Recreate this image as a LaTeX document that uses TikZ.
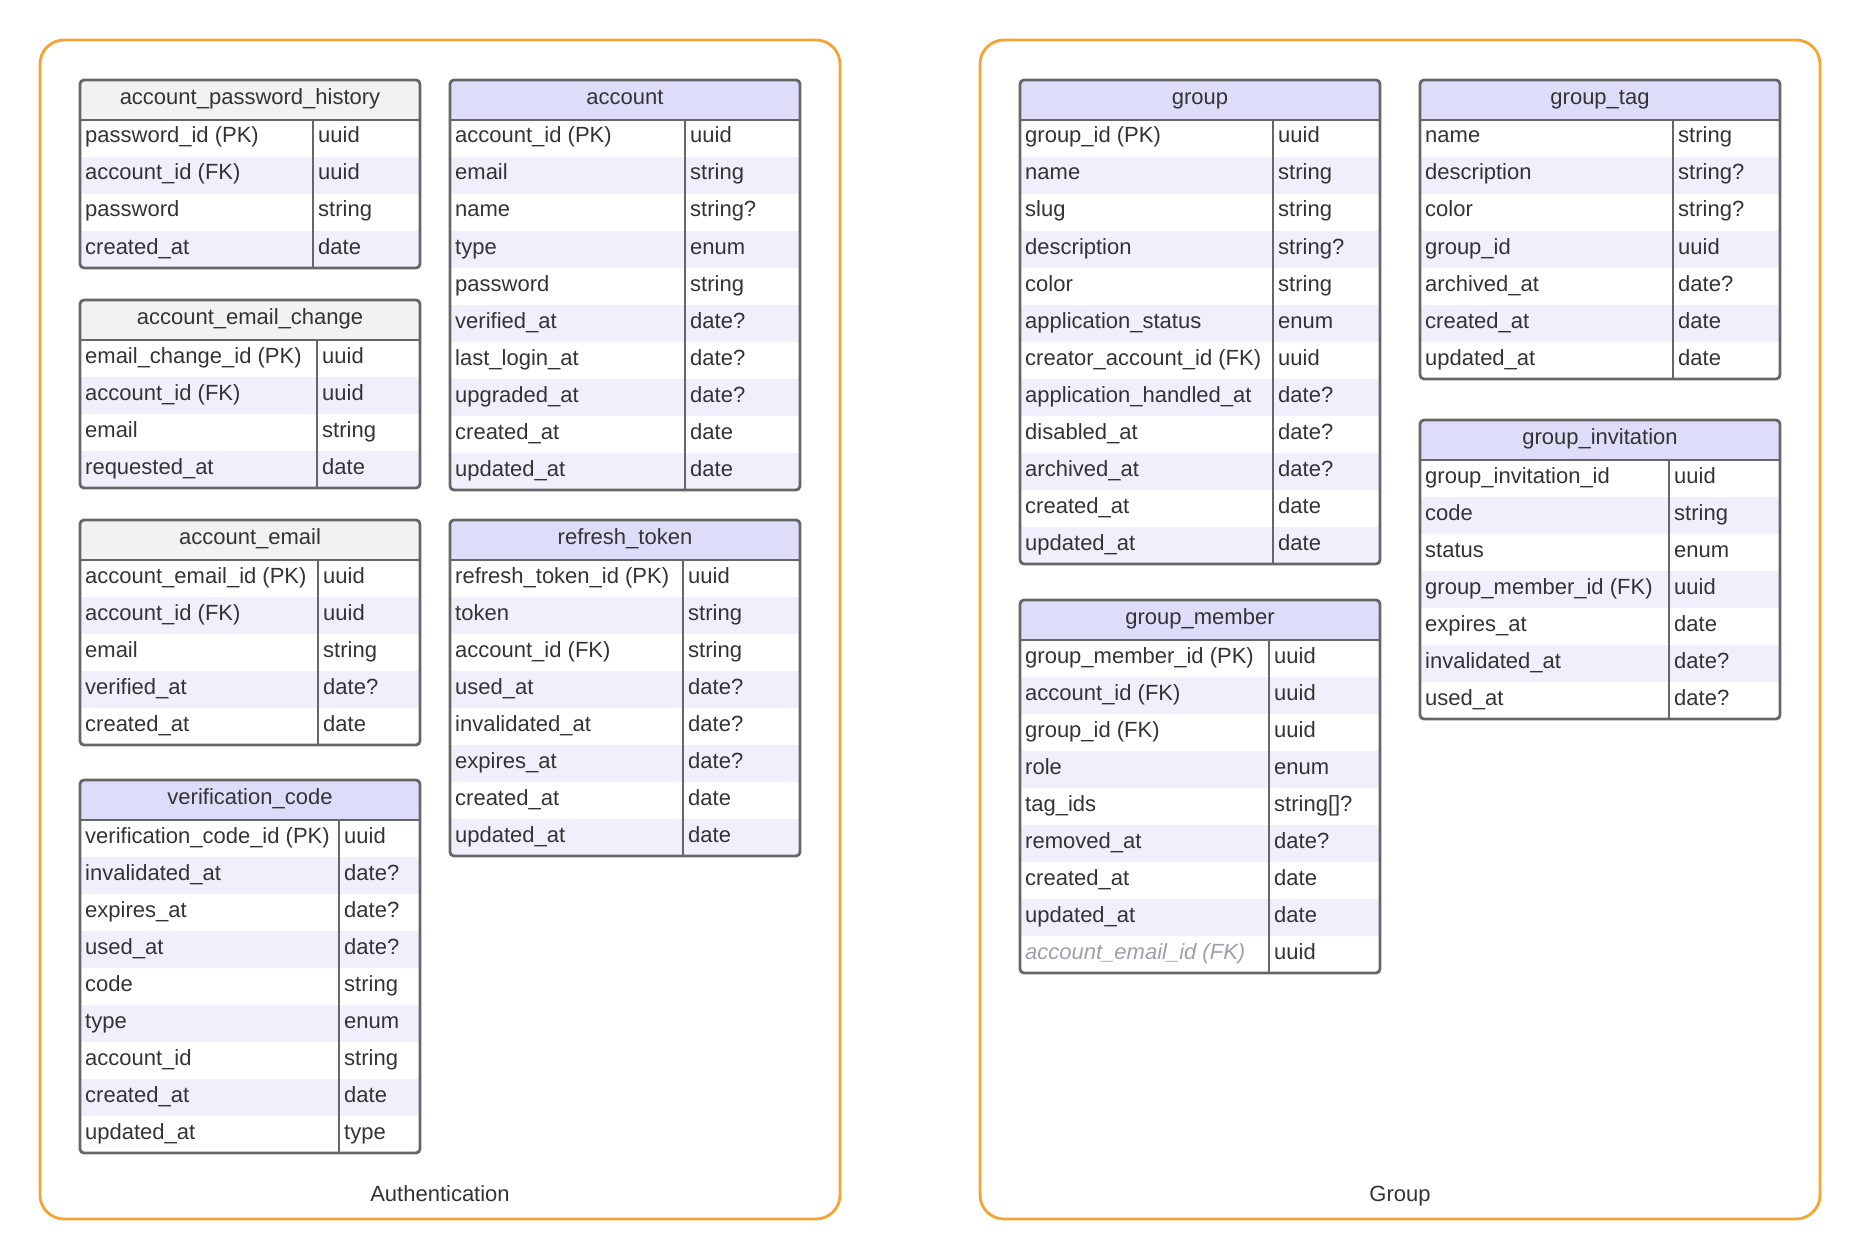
\documentclass[tikz,border=0pt]{standalone}
\usepackage{fontspec}
\setmainfont{Liberation Sans}
\usetikzlibrary{positioning}

\definecolor{headlav}{HTML}{DDDDFA}
\definecolor{headgrey}{HTML}{F2F2F2}
\definecolor{stripe}{HTML}{F0F0FD}
\definecolor{frame}{HTML}{666666}
\definecolor{txt}{HTML}{333333}
\definecolor{fkgrey}{HTML}{9CA0A8}
\definecolor{boxorange}{HTML}{F7A333}

% #1 name, #2 x, #3 y, #4 width, #5 key column, #6 header style, #7 rows, #8 title, #9 fields
\newcommand{\erTable}[9]{%
  \begin{scope}
    \clip[rounded corners=4pt] (#2,#3) rectangle ++(#4,{40+#7*37});
    \fill[#6] (#2,#3) rectangle ++(#4,40);
    \foreach \fkey/\ftype [count=\i] in {#9} {
      \ifodd\i\else
        \fill[rowstripe] (#2,{#3+3+\i*37}) rectangle ++(#4,37);
      \fi
    }
  \end{scope}
  \node[tabtitle] (#1) at ({#2+#4/2},{#3+24.5}) {#8};
  \foreach \fkey/\ftype [count=\i] in {#9} {
    \node[cell] (#1-k\i) at ({#2+5},{#3+26+\i*37}) {\fkey};
    \node[cell] (#1-t\i) at ({#2+#5+5},{#3+26+\i*37}) {\ftype};
  }
  \draw[tabline] (#2,{#3+40}) -- ++(#4,0);
  \draw[tabline] ({#2+#5},{#3+40}) -- ++(0,{#7*37});
  \draw[tabline,rounded corners=4pt] (#2,#3) rectangle ++(#4,{40+#7*37});
}

\begin{document}
\begin{tikzpicture}[
    x=1pt, y=-1pt,
    every node/.style={
      font=\fontsize{22pt}{26pt}\selectfont,
      text=txt
    },
    cell/.style={
      anchor=base west,
      inner sep=0pt
    },
    tabtitle/.style={
      anchor=base,
      inner sep=0pt
    },
    tabline/.style={
      draw=frame,
      line width=2.8pt
    },
    lavhead/.style={fill=headlav},
    greyhead/.style={fill=headgrey},
    rowstripe/.style={fill=stripe},
    area/.style={
      draw=boxorange,
      line width=2.8pt,
      rounded corners=24pt
    }
  ]
  \useasboundingbox (0,0) rectangle (1860,1260);

  % subject areas
  \draw[area] (40,40) rectangle (840,1219);
  \draw[area] (980,40) rectangle (1820,1219);
  \node[anchor=base] (authlabel) at (440,1201) {Authentication};
  \node[anchor=base] (grouplabel) at (1400,1201) {Group};

  % Authentication
  \erTable{aph}{80}{80}{340}{233}{greyhead}{4}{account\_password\_history}{
    password\_id (PK)/uuid, account\_id (FK)/uuid, password/string, created\_at/date}
  \erTable{aec}{80}{300}{340}{237}{greyhead}{4}{account\_email\_change}{
    email\_change\_id (PK)/uuid, account\_id (FK)/uuid, email/string, requested\_at/date}
  \erTable{aem}{80}{520}{340}{238}{greyhead}{5}{account\_email}{
    account\_email\_id (PK)/uuid, account\_id (FK)/uuid, email/string,
    verified\_at/date?, created\_at/date}
  \erTable{vco}{80}{780}{340}{259}{lavhead}{9}{verification\_code}{
    verification\_code\_id (PK)/uuid, invalidated\_at/date?, expires\_at/date?,
    used\_at/date?, code/string, type/enum, account\_id/string,
    created\_at/date, updated\_at/type}
  \erTable{acc}{450}{80}{350}{235}{lavhead}{10}{account}{
    account\_id (PK)/uuid, email/string, name/string?, type/enum,
    password/string, verified\_at/date?, last\_login\_at/date?,
    upgraded\_at/date?, created\_at/date, updated\_at/date}
  \erTable{rtk}{450}{520}{350}{233}{lavhead}{8}{refresh\_token}{
    refresh\_token\_id (PK)/uuid, token/string, account\_id (FK)/string,
    used\_at/date?, invalidated\_at/date?, expires\_at/date?,
    created\_at/date, updated\_at/date}

  % Group
  \erTable{grp}{1020}{80}{360}{253}{lavhead}{12}{group}{
    group\_id (PK)/uuid, name/string, slug/string, description/string?,
    color/string, application\_status/enum, creator\_account\_id (FK)/uuid,
    application\_handled\_at/date?, disabled\_at/date?, archived\_at/date?,
    created\_at/date, updated\_at/date}
  \erTable{gmb}{1020}{600}{360}{249}{lavhead}{9}{group\_member}{
    group\_member\_id (PK)/uuid, account\_id (FK)/uuid, group\_id (FK)/uuid,
    role/enum, tag\_ids/string[]?, removed\_at/date?, created\_at/date,
    updated\_at/date, {\itshape\color{fkgrey}account\_email\_id (FK)}/uuid}
  \erTable{gtg}{1420}{80}{360}{253}{lavhead}{7}{group\_tag}{
    name/string, description/string?, color/string?, group\_id/uuid,
    archived\_at/date?, created\_at/date, updated\_at/date}
  \erTable{giv}{1420}{420}{360}{249}{lavhead}{7}{group\_invitation}{
    group\_invitation\_id/uuid, code/string, status/enum,
    group\_member\_id (FK)/uuid, expires\_at/date, invalidated\_at/date?,
    used\_at/date?}
\end{tikzpicture}
\end{document}
